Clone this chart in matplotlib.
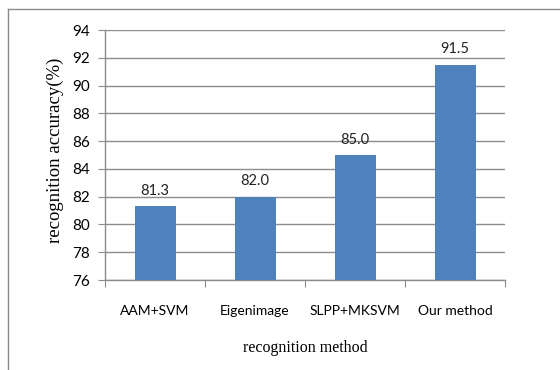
import matplotlib.pyplot as plt
from matplotlib.lines import Line2D

methods = ["AAM+SVM", "Eigenimage", "SLPP+MKSVM", "Our method"]
accuracy = [81.3, 82.0, 85.0, 91.5]
y_ticks = [76, 78, 80, 82, 84, 86, 88, 90, 92, 94]

W, H = 560, 370
fig = plt.figure(figsize=(W / 100, H / 100), dpi=100)
ax = fig.add_axes([105 / W, 1 - 280 / H, 400 / W, 250 / H])

bar_color = "#4F81BD"
grid_color = "#8C8C8C"
tick_font = "Lato"
serif_font = "Liberation Serif"

x = range(len(methods))
bars = ax.bar(x, [a - y_ticks[0] for a in accuracy], bottom=y_ticks[0],
              width=0.41, color=bar_color, zorder=3)

# value labels above each bar
for xi, val in zip(x, accuracy):
    ax.annotate(f"{val:.1f}", (xi, val), xytext=(0, 6), textcoords="offset points",
                ha="center", va="bottom", fontsize=10.5, family=tick_font, color="#222222")

ax.set_xlim(-0.5, len(methods) - 0.5)
ax.set_ylim(y_ticks[0], y_ticks[-1])
ax.set_yticks(y_ticks)
ax.set_yticklabels([str(t) for t in y_ticks], family=tick_font, fontsize=11)
ax.yaxis.grid(True, color=grid_color, linewidth=1.0, zorder=0)
ax.set_axisbelow(True)

# category boundaries carry the x tick marks, labels sit in the middle
ax.set_xticks([i - 0.5 for i in range(len(methods) + 1)])
ax.set_xticklabels([])
ax.set_xticks(list(x), minor=True)
ax.set_xticklabels(methods, minor=True, family=tick_font, fontsize=10)
ax.tick_params(axis="x", which="major", length=5, color=grid_color, direction="out")
ax.tick_params(axis="x", which="minor", length=0, pad=18)
ax.tick_params(axis="y", length=5, color=grid_color, pad=6)

for side in ["top", "right"]:
    ax.spines[side].set_visible(False)
for side in ["left", "bottom"]:
    ax.spines[side].set_color(grid_color)
    ax.spines[side].set_linewidth(1.0)

fig.text(305 / W, 1 - 348 / H, "recognition method", ha="center", va="center",
         family=serif_font, fontsize=11.5)
fig.text(55 / W, 1 - 150 / H, "recognition accuracy(%)", ha="center", va="center",
         rotation=90, family=serif_font, fontsize=13.5)

# chart frame
frame_color = "#8A8A8A"
fig.add_artist(Line2D([8 / W, 1], [1 - 9 / H, 1 - 9 / H], color=frame_color, linewidth=1.0))
fig.add_artist(Line2D([8 / W, 8 / W], [0, 1 - 9 / H], color=frame_color, linewidth=1.0))

fig.savefig("out.png", dpi=100)
